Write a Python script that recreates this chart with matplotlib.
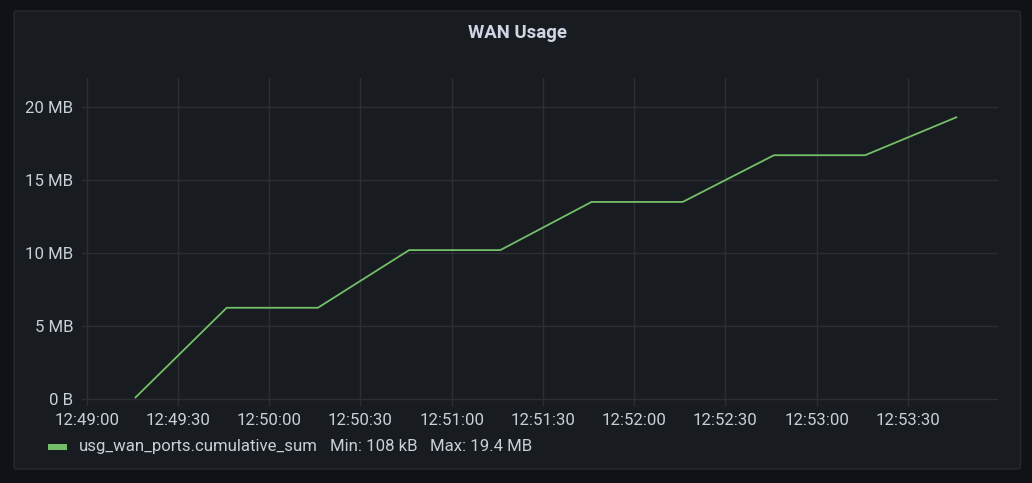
import matplotlib
matplotlib.use("Agg")
import matplotlib.pyplot as plt
import matplotlib.dates as mdates
from matplotlib.patches import FancyBboxPatch, Rectangle
from datetime import datetime, timedelta

plt.rcParams['font.family'] = ['Roboto', 'DejaVu Sans']

# ---- data ----
title = "WAN Usage"
series_name = "usg_wan_ports.cumulative_sum"
times = ["12:49:16", "12:49:46", "12:50:16", "12:50:46", "12:51:16",
         "12:51:46", "12:52:16", "12:52:46", "12:53:16", "12:53:46"]
values_mb = [0.108, 6.25, 6.25, 10.2, 10.2, 13.5, 13.5, 16.7, 16.7, 19.3]
y_ticks_mb = [0, 5, 10, 15, 20]
y_tick_labels = ["0 B", "5 MB", "10 MB", "15 MB", "20 MB"]
legend_min = "108 kB"
legend_max = "19.4 MB"

day = "2023-01-01 "
t = [datetime.strptime(day + s, "%Y-%m-%d %H:%M:%S") for s in times]

W, H = 1032, 483
fig = plt.figure(figsize=(W / 100, H / 100), dpi=100)
fig.patch.set_facecolor("#111217")

# panel
panel = FancyBboxPatch((14 / W, (H - 469) / H), (1020.5 - 14) / W, (469 - 11) / H,
                       boxstyle="round,pad=0,rounding_size=0.004",
                       transform=fig.transFigure, facecolor="#181b1f",
                       edgecolor="#26282d", linewidth=1.0, zorder=-5)
fig.patches.append(panel)

ax_left, ax_right, ax_top, ax_bot = 82, 998, 78, 406
ax = fig.add_axes([ax_left / W, (H - ax_bot) / H, (ax_right - ax_left) / W, (ax_bot - ax_top) / H])
ax.set_zorder(2)
ax.set_facecolor("none")

ax.plot(t, values_mb, color="#73bf69", linewidth=1.3, solid_joinstyle="round", zorder=3)

t0 = datetime.strptime(day + "12:49:00", "%Y-%m-%d %H:%M:%S")
ax.set_xlim(t0 - timedelta(seconds=1.6), t0 + timedelta(seconds=299.7))
ax.set_ylim(-0.48, 21.99)

ax.xaxis.set_major_locator(mdates.SecondLocator(bysecond=[0, 30]))
ax.xaxis.set_major_formatter(mdates.DateFormatter("%H:%M:%S"))
ax.set_yticks(y_ticks_mb)
ax.set_yticklabels(y_tick_labels)

grid_c = "#2b2e33"
ax.grid(True, color=grid_c, linewidth=1.0, zorder=1)
for s in ax.spines.values():
    s.set_visible(False)
ax.tick_params(axis="both", length=0, colors="#c7d0d9", labelsize=12.1)
ax.tick_params(axis="x", pad=5.0)
ax.tick_params(axis="y", pad=6.3)

# title
fig.text(517.5 / W, 1 - 33 / H, title, ha="center", va="center",
         color="#d0d4e4", fontsize=13.4, fontweight="bold")

# legend
ly = 1 - 446.5 / H
txt_c = "#c7d0d9"
fig.patches.append(Rectangle((47.5 / W, ly - 3 / H), 19.5 / W, 6 / H,
                             transform=fig.transFigure, facecolor="#73bf69",
                             edgecolor="none", zorder=3))
fig.text(78.5 / W, ly, series_name, ha="left", va="center", color=txt_c, fontsize=12.1)
fig.text(330 / W, ly, f"Min: {legend_min}", ha="left", va="center", color=txt_c, fontsize=12.1)
fig.text(430 / W, ly, f"Max: {legend_max}", ha="left", va="center", color=txt_c, fontsize=12.1)

fig.savefig("out.png", dpi=100, facecolor=fig.get_facecolor())
